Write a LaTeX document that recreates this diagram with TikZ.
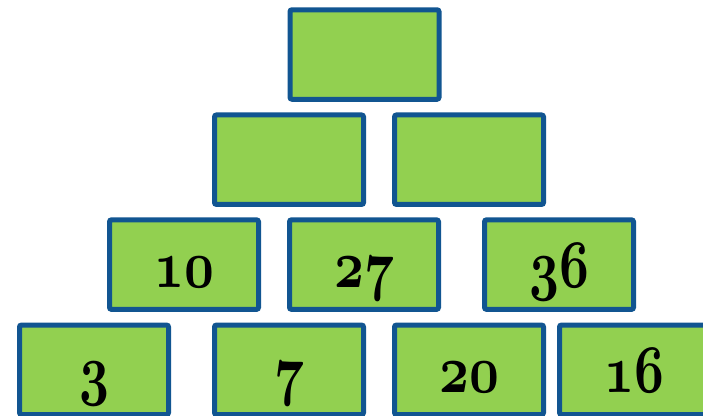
\documentclass[tikz,border=0pt]{standalone}
\usepackage{graphicx}
\definecolor{boxfill}{RGB}{146,208,80}
\definecolor{boxline}{RGB}{17,85,145}
\newcommand{\osnum}[1]{\scalebox{5.2}[6.8]{\fontsize{10}{10}\usefont{OML}{cmm}{b}{it}#1}}
\begin{document}
\begin{tikzpicture}[x=1pt,y=-1pt,
  brick/.style={draw=boxline,fill=boxfill,line width=5pt,rounded corners=2pt,
    minimum width=149pt,minimum height=89.5pt,inner sep=0pt,outer sep=0pt},
  num/.style={anchor=base,inner sep=0pt}]
\useasboundingbox[fill=white] (0,0) rectangle (703,415);
% row 1
\node[brick] (r1a) at (364.5,54.5) {};
% row 2
\node[brick] (r2a) at (289,159.7) {};
\node[brick] (r2b) at (469,159.7) {};
% row 3
\node[brick] (r3a) at (184,264.6) {};
\node[brick] (r3b) at (364,264.6) {};
\node[brick] (r3c) at (559,264.6) {};
% row 4
\node[brick] (r4a) at (94,369.8) {};
\node[brick] (r4b) at (289,369.8) {};
\node[brick] (r4c) at (469,369.8) {};
\node[brick] (r4d) at (634,369.8) {};
% numbers
\node[num] (t10) at ([yshift=-23pt]r3a.center) {\osnum{10}};
\node[num] (t27) at ([yshift=-23pt]r3b.center) {\osnum{27}};
\node[num] (t36) at ([yshift=-23pt]r3c.center) {\osnum{36}};
\node[num] (t3) at ([yshift=-23pt]r4a.center) {\osnum{3}};
\node[num] (t7) at ([yshift=-23pt]r4b.center) {\osnum{7}};
\node[num] (t20) at ([yshift=-23pt]r4c.center) {\osnum{20}};
\node[num] (t16) at ([yshift=-23pt]r4d.center) {\osnum{16}};
\end{tikzpicture}
\end{document}
